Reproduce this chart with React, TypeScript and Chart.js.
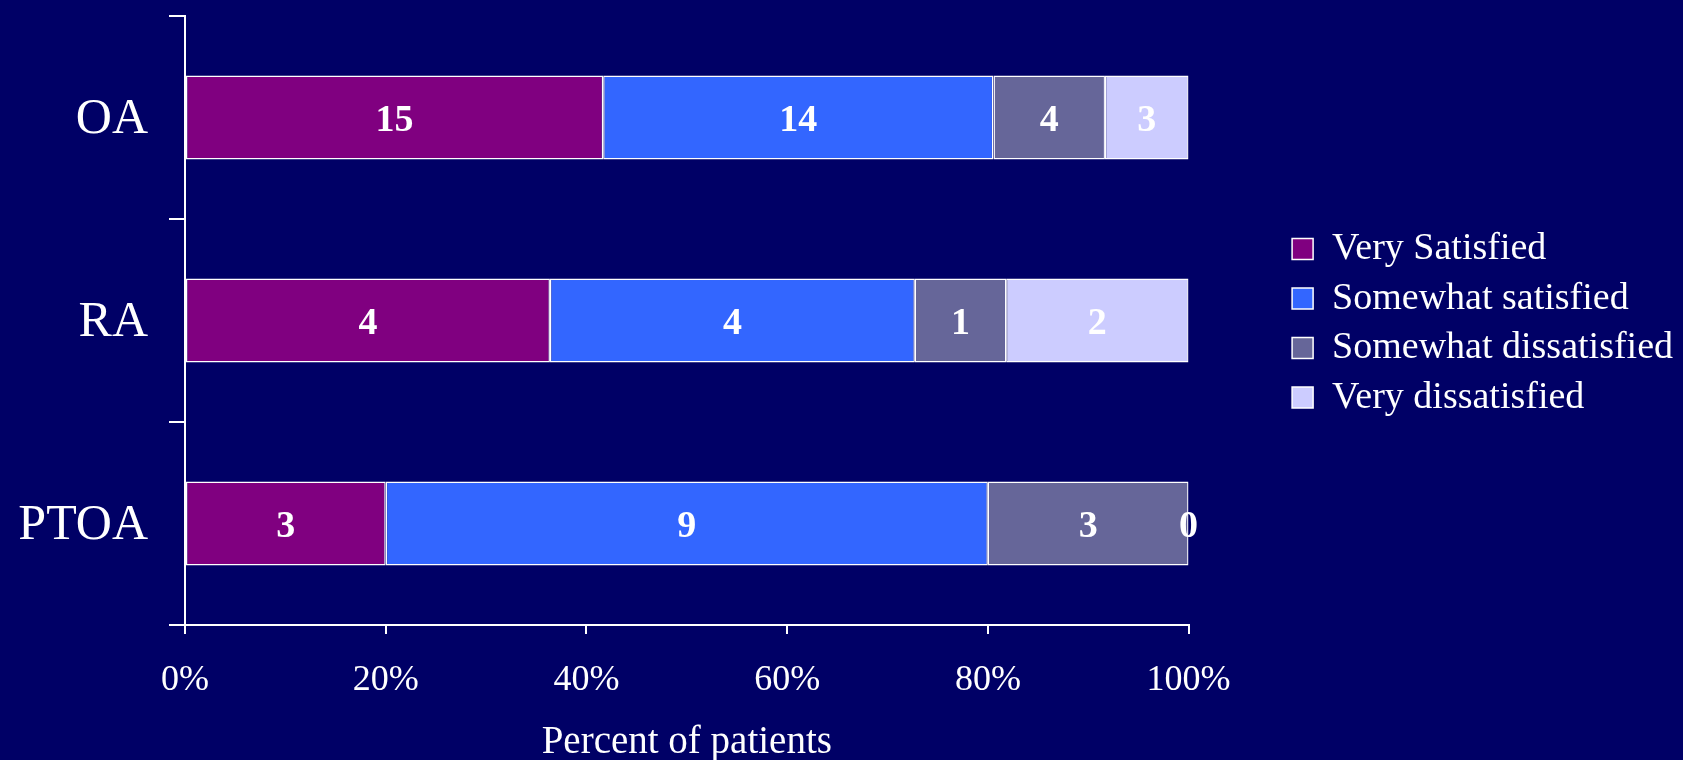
import React, { useEffect, useRef } from "react";
import { Chart, registerables } from "chart.js";

Chart.register(...registerables);

const categories = ["OA", "RA", "PTOA"];
const seriesNames = ["Very Satisfied", "Somewhat satisfied", "Somewhat dissatisfied", "Very dissatisfied"];
const verySatisfied = [15, 4, 3];
const somewhatSatisfied = [14, 4, 9];
const somewhatDissatisfied = [4, 1, 3];
const veryDissatisfied = [3, 2, 0];
const seriesColors = ["#800080", "#3366FF", "#666699", "#CCCCFF"];
const xTickLabels = ["0%", "20%", "40%", "60%", "80%", "100%"];
const xAxisTitle = "Percent of patients";

const counts = [verySatisfied, somewhatSatisfied, somewhatDissatisfied, veryDissatisfied];
const totals = categories.map((_, i) => counts.reduce((s, arr) => s + arr[i], 0));

const FONT = '"Liberation Serif", "Times New Roman", serif';
const BG = "#000066";

const bgPlugin = {
  id: "bgFill",
  beforeDraw(chart: any) {
    const { ctx, width, height } = chart;
    ctx.save();
    ctx.fillStyle = BG;
    ctx.fillRect(0, 0, width, height);
    ctx.restore();
  },
};

const valueLabels = {
  id: "valueLabels",
  afterDatasetsDraw(chart: any) {
    const ctx = chart.ctx;
    ctx.save();
    ctx.font = `bold 38px ${FONT}`;
    ctx.fillStyle = "#ffffff";
    ctx.textAlign = "center";
    ctx.textBaseline = "middle";
    chart.data.datasets.forEach((_ds: any, di: number) => {
      const meta = chart.getDatasetMeta(di);
      meta.data.forEach((bar: any, i: number) => {
        const { x, base, y } = bar.getProps(["x", "base", "y"], true);
        ctx.fillText(String(counts[di][i]), (x + base) / 2, y + 4);
      });
    });
    ctx.restore();
  },
};

export default function App() {
  const ref = useRef<HTMLCanvasElement | null>(null);

  useEffect(() => {
    if (!ref.current) return;
    const chart = new Chart(ref.current, {
      type: "bar",
      data: {
        labels: categories,
        datasets: seriesNames.map((name, si) => ({
          label: name,
          data: counts[si].map((v, i) => (v / totals[i]) * 100),
          backgroundColor: seriesColors[si],
          borderColor: "#ffffff",
          borderWidth: 1.5,
          borderSkipped: false,
          barPercentage: 0.414,
          categoryPercentage: 1,
          xAxisID: "x",
          yAxisID: "y",
        })),
      },
      options: {
        indexAxis: "y",
        animation: false,
        responsive: false,
        events: [],
        layout: { padding: { left: 0, right: 0, top: 16, bottom: 0 } },
        scales: {
          x: {
            type: "linear",
            stacked: true,
            min: 0,
            max: 100,
            ticks: {
              stepSize: 20,
              color: "#ffffff",
              font: { family: FONT, size: 36 },
              padding: 25,
              maxRotation: 0,
              callback: (_v: any, idx: number) => xTickLabels[idx],
            },
            grid: { drawOnChartArea: false, drawTicks: true, tickLength: 9, color: "#ffffff", lineWidth: 2 },
            border: { display: true, color: "#ffffff", width: 2 },
            title: {
              display: true,
              text: xAxisTitle,
              color: "#ffffff",
              font: { family: FONT, size: 39, lineHeight: 0.9 },
              padding: 0,
            },
            afterFit: (scale: any) => {
              scale.height = 135;
              scale.paddingLeft = 0;
              scale.paddingRight = 0;
            },
          },
          y: {
            type: "category",
            stacked: true,
            position: "left",
            ticks: { color: "#ffffff", font: { family: FONT, size: 50 }, padding: 21, labelOffset: 2.5 },
            grid: { offset: true, drawOnChartArea: false, drawTicks: true, tickLength: 16, color: "#ffffff", lineWidth: 2 },
            border: { display: true, color: "#ffffff", width: 2 },
            afterFit: (scale: any) => {
              scale.width = 185;
              scale.paddingTop = 0;
              scale.paddingBottom = 0;
            },
          },
          y2: {
            type: "category",
            position: "right",
            display: true,
            ticks: { display: false },
            grid: { display: false },
            border: { display: false },
            afterFit: (scale: any) => {
              scale.width = 92;
              scale.paddingTop = 0;
              scale.paddingBottom = 0;
            },
          },
        },
        plugins: {
          legend: {
            display: true,
            position: "right",
            fullSize: false,
            maxWidth: 1000,
            title: { display: true, text: "", font: { size: 2 }, padding: 1.6 },
            labels: {
              color: "#ffffff",
              font: { family: FONT, size: 38 },
              boxWidth: 21,
              boxHeight: 21,
              padding: 11.5,
            },
          },
          tooltip: { enabled: false },
        },
      },
      plugins: [bgPlugin, valueLabels],
    } as any);
    return () => chart.destroy();
  }, []);

  return (
    <div style={{ position: "absolute", left: 0, top: 0, width: 1683, height: 760, background: BG }}>
      <canvas ref={ref} width={1683} height={760} style={{ display: "block", width: 1683, height: 760 }} />
    </div>
  );
}
